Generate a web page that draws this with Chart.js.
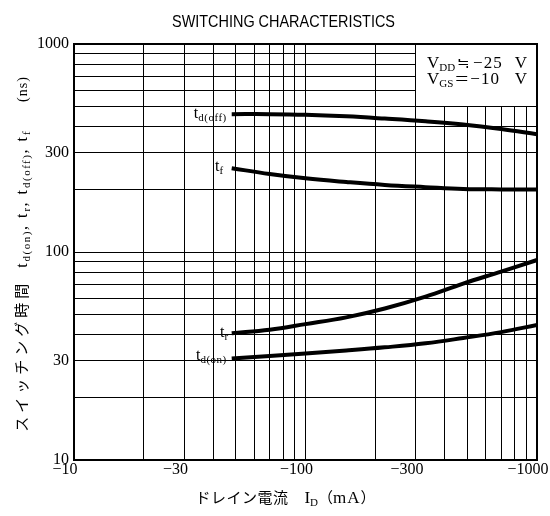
<!DOCTYPE html>
<html><head><meta charset="utf-8">
<script src="https://cdn.jsdelivr.net/npm/chart.js@4.4.0/dist/chart.umd.min.js"></script>
<style>html,body{margin:0;padding:0;background:#fff;}</style>
</head><body>
<canvas id="c" width="550" height="516"></canvas>
<script>
// |I_D| in mA (plotted as negative values on the axis labels)
const drainCurrent = [48, 70, 100, 150, 220, 330, 480, 700, 1000];
// switching times in ns
const tdOff = [460, 460, 457, 449, 438, 425, 410, 390, 368];
const tFall = [253, 237, 226, 217, 210, 205, 201, 200, 200];
const tRise = [40.7, 42.3, 45, 48.5, 53.5, 61, 70.5, 80.5, 91.5];
const tdOn  = [30.8, 31.6, 32.5, 33.6, 34.8, 36.4, 38.6, 41.2, 44.6];
const xTickLabels = [10, 30, 100, 300, 1000];
const yTickLabels = [10, 30, 100, 300, 1000];
const gridValues = [10,20,30,40,50,60,70,80,90,100,200,300,400,500,600,700,800,900,1000];

const SERIF = "'Liberation Serif','Noto Sans CJK JP'";
const CJK = "'Noto Sans CJK JP'";
const pts = arr => drainCurrent.map((c, i) => ({x: c, y: arr[i]}));

const seriesDefs = [
  {name: 'td(off)', data: tdOff, sub: 'd(off)', dy: 4, gap: 5},
  {name: 'tf', data: tFall, sub: 'f', dy: 3, gap: 8},
  {name: 'tr', data: tRise, sub: 'r', dy: 4, gap: 3},
  {name: 'td(on)', data: tdOn, sub: 'd(on)', dy: 2, gap: 5}
];

function drawRich(ctx, segs, x, y, align) {
  let w = 0;
  segs.forEach(s => {
    ctx.font = s.f; ctx.letterSpacing = s.ls || '0px';
    s.w = (s.gap || 0) + ctx.measureText(s.t).width;
    w += s.w;
  });
  let cx = align === 'center' ? x - w / 2 : (align === 'right' ? x - w : x);
  segs.forEach(s => {
    ctx.font = s.f; ctx.letterSpacing = s.ls || '0px';
    ctx.fillText(s.t, cx + (s.gap || 0), y + (s.dy || 0));
    cx += s.w;
  });
  ctx.letterSpacing = '0px';
  return w;
}

const annot = {
  id: 'annot',
  beforeDatasetsDraw(chart) {
    const {ctx, scales: {x, y}} = chart;
    const l = Math.round(x.getPixelForValue(300) - 0.5) + 1;
    const r = x.getPixelForValue(1000);
    const t = y.getPixelForValue(1000);
    const b = Math.round(y.getPixelForValue(500) - 0.5);
    ctx.save();
    ctx.fillStyle = '#fff';
    ctx.fillRect(l, t, r - l, b - t);
    ctx.restore();
  },
  afterDraw(chart) {
    const {ctx, chartArea: a, scales: {x, y}} = chart;
    ctx.save();
    // frame
    ctx.strokeStyle = '#000';
    ctx.lineWidth = 2;
    ctx.strokeRect(a.left, a.top, a.right - a.left, a.bottom - a.top);
    ctx.fillStyle = '#000';
    ctx.textBaseline = 'alphabetic';

    // title
    ctx.save();
    ctx.font = "17px 'Liberation Sans Narrow','Liberation Sans'";
    const title = 'SWITCHING CHARACTERISTICS';
    const tw = ctx.measureText(title).width;
    ctx.translate(283.5, 27);
    ctx.scale(223 / tw, 1);
    ctx.textAlign = 'left';
    ctx.fillText(title, -tw / 2, 0);
    ctx.restore();

    // curve labels
    seriesDefs.forEach(s => {
      const px = x.getPixelForValue(drainCurrent[0]) - s.gap;
      const py = y.getPixelForValue(s.data[0]);
      drawRich(ctx, [
        {t: 't', f: '16px ' + SERIF},
        {t: s.sub, f: '11px ' + SERIF, dy: 3, ls: '0.5px'}
      ], px, py + s.dy, 'right');
    });

    // inset conditions box
    const bx = x.getPixelForValue(300) + 11;
    const br = x.getPixelForValue(1000) - 10;
    const by1 = y.getPixelForValue(1000) + 24;
    const by2 = by1 + 16;
    drawRich(ctx, [
      {t: 'V', f: '17px ' + SERIF},
      {t: 'DD', f: '11px ' + SERIF, dy: 3},
      {t: '≒', f: '15px ' + CJK, gap: 2},
      {t: '−25', f: '17px ' + SERIF, gap: 3, ls: '1px'}
    ], bx, by1, 'left');
    drawRich(ctx, [{t: 'V', f: '17px ' + SERIF}], br, by1, 'right');
    drawRich(ctx, [
      {t: 'V', f: '17px ' + SERIF},
      {t: 'GS', f: '11px ' + SERIF, dy: 3},
      {t: '＝', f: '15px ' + CJK, gap: 1},
      {t: '−10', f: '17px ' + SERIF, gap: 1, ls: '1px'}
    ], bx, by2, 'left');
    drawRich(ctx, [{t: 'V', f: '17px ' + SERIF}], br, by2, 'right');

    // x axis title
    drawRich(ctx, [
      {t: 'ドレイン電流', f: '15px ' + CJK, ls: '0.5px'},
      {t: 'I', f: '17px ' + SERIF, gap: 16},
      {t: 'D', f: '11px ' + SERIF, dy: 3},
      {t: '（', f: '15px ' + CJK},
      {t: 'mA', f: '17px ' + SERIF, ls: '1px'},
      {t: '）', f: '15px ' + CJK}
    ], (a.left + a.right) / 2 - 20, 503, 'center');

    // y axis title (rotated)
    ctx.save();
    ctx.translate(27, (a.top + a.bottom) / 2 + 2);
    ctx.rotate(-Math.PI / 2);
    const L = '16px ' + SERIF, S = '11px ' + SERIF;
    drawRich(ctx, [
      {t: 'スイッチング時間', f: '15px ' + CJK, ls: '4px'},
      {t: 't', f: L, gap: 12, ls: '2px'},
      {t: 'd(on)', f: S, dy: 3, ls: '1.5px'},
      {t: ', t', f: L, ls: '2px'},
      {t: 'r', f: S, dy: 3, ls: '1.5px'},
      {t: ', t', f: L, ls: '2px'},
      {t: 'd(off)', f: S, dy: 3, ls: '1.5px'},
      {t: ', t', f: L, ls: '2px'},
      {t: 'f', f: S, dy: 3, ls: '1.5px'},
      {t: '(ns)', f: '14px ' + SERIF, gap: 28, ls: '1px'}
    ], 0, 0, 'center');
    ctx.restore();

    ctx.restore();
  }
};

const setTicks = scale => { scale.ticks = gridValues.map(v => ({value: v})); };

new Chart(document.getElementById('c'), {
  type: 'line',
  data: {
    datasets: seriesDefs.map(s => ({
      label: s.name,
      data: pts(s.data),
      borderColor: '#000',
      borderWidth: 4,
      pointRadius: 0,
      fill: false,
      tension: 0.4
    }))
  },
  options: {
    responsive: false,
    animation: false,
    devicePixelRatio: 1,
    layout: {padding: {left: 0, right: 13, top: 44, bottom: 0}},
    plugins: {legend: {display: false}, title: {display: false}, tooltip: {enabled: false}},
    scales: {
      x: {
        type: 'logarithmic', min: 10, max: 1000,
        afterBuildTicks: setTicks,
        afterFit: s => { s.height = 56; s.paddingLeft = 0; s.paddingRight = 0; },
        grid: {color: '#000', lineWidth: 1, drawTicks: false},
        border: {display: false},
        ticks: {
          autoSkip: false, maxRotation: 0, minRotation: 0, padding: 0, labelOffset: -9,
          color: '#000', font: {family: SERIF, size: 16},
          callback: v => xTickLabels.includes(v) ? '−' + v : ''
        }
      },
      y: {
        type: 'logarithmic', min: 10, max: 1000,
        afterBuildTicks: setTicks,
        afterFit: s => { s.width = 74; s.paddingTop = 0; s.paddingBottom = 0; },
        grid: {color: '#000', lineWidth: 1, drawTicks: false},
        border: {display: false},
        ticks: {
          autoSkip: false, padding: 5,
          color: '#000', font: {family: SERIF, size: 16},
          callback: v => yTickLabels.includes(v) ? String(v) : ''
        }
      }
    }
  },
  plugins: [annot]
});
</script>
</body></html>
